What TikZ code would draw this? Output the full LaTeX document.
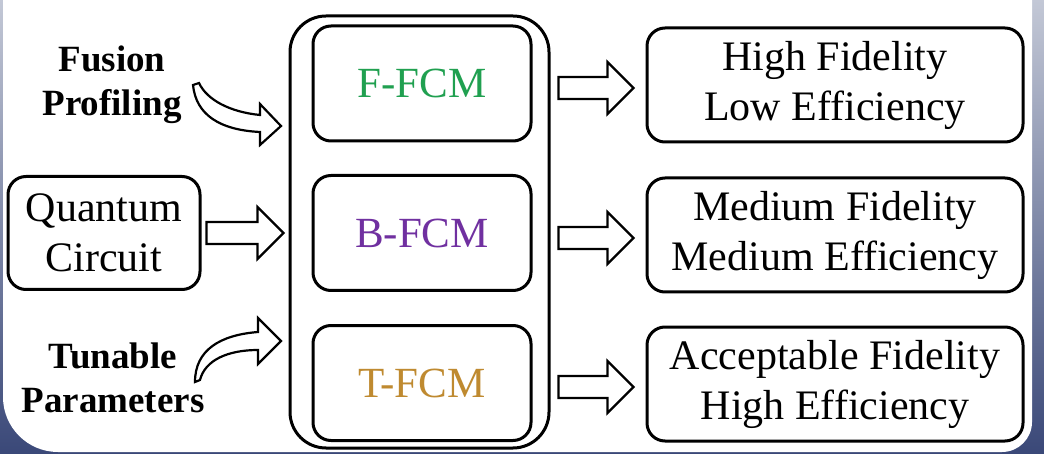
\documentclass[tikz,border=0pt]{standalone}
\usepackage{fontspec}
\setmainfont{Liberation Serif}
\usetikzlibrary{calc}

\definecolor{fgreen}{HTML}{20A050}
\definecolor{bpurple}{HTML}{7030A0}
\definecolor{tgold}{HTML}{BF8A30}
\definecolor{frametop}{HTML}{C3C8D6}
\definecolor{framebot}{HTML}{3A4878}

\newcommand{\fatarrow}[2]{%
  \draw[fat] let \p1=#1, \p2=#2 in
    (\x1,\y1+11) -- (\x2-26,\y1+11) -- (\x2-26,\y1+26) -- (\x2,\y1)
    -- (\x2-26,\y1-26) -- (\x2-26,\y1-11) -- (\x1,\y1-11) -- cycle;}

\begin{document}
\begin{tikzpicture}[x=1pt, y=-1pt,
  box/.style={draw=black, line width=3pt, rounded corners=18pt, inner sep=0pt, align=center},
  outer/.style={box, rounded corners=36pt, minimum width=259pt, minimum height=432pt},
  fcm/.style={box, minimum width=218pt, minimum height=115pt, font=\fontsize{43}{50}\selectfont},
  outcome/.style={box, minimum width=376pt, minimum height=114pt, font=\fontsize{42}{50}\selectfont},
  source/.style={box, minimum width=192pt, minimum height=113pt, font=\fontsize{42}{50}\selectfont},
  side/.style={inner sep=0pt, align=center, font=\fontsize{37}{44}\selectfont\bfseries},
  fat/.style={draw=black, line width=2.2pt, fill=white, line join=miter},
  bent/.style={draw=black, line width=2.2pt, fill=white, line join=miter}]
\useasboundingbox (0,0) rectangle (1044,454);
\shade[top color=frametop, bottom color=framebot] (0,0) rectangle (1044,454);
\fill[white] (3,0) [rounded corners=55pt] -- (3,452) [rounded corners=30pt] -- (1032,452) [sharp corners] -- (1032,0) -- cycle;

\node[outer] (fcms) at (419.5,232) {};
\node[fcm, text=fgreen] (ffcm) at (422,83.5) {F-FCM};
\node[fcm, text=bpurple] (bfcm) at (422,233) {B-FCM};
\node[fcm, text=tgold] (tfcm) at (422,383) {T-FCM};

\node[source] (qc) at (104,233) {Quantum\\Circuit};
\node[side] (fusion) at (112,85) {Fusion\\Profiling};
\node[side] (tune) at (113,378) {Tunable\\Parameters};

\node[outcome] (hifi) at (835,85) {High Fidelity\\Low Efficiency};
\node[outcome] (medfi) at (835,235) {Medium Fidelity\\Medium Efficiency};
\node[outcome] (accfi) at (835,384) {Acceptable Fidelity\\High Efficiency};

\fatarrow{($(qc.east)+(5,0)$)}{($(fcms.west)+(-5,0)$)}
\fatarrow{($(fcms.east |- hifi.west)+(8,3)$)}{($(hifi.west)+(-12,3)$)}
\fatarrow{($(fcms.east |- medfi.west)+(8,3)$)}{($(medfi.west)+(-12,3)$)}
\fatarrow{($(fcms.east |- accfi.west)+(8,3)$)}{($(accfi.west)+(-12,3)$)}

\draw[bent] (193,85) .. controls (196,115) and (220,130) .. (260,132)
  -- (260,145) -- (281,126) -- (260,104) -- (260,115)
  .. controls (230,112) and (207,100) .. (199,83) -- cycle;
\draw[bent] (195,382) .. controls (195,350) and (220,335) .. (258,332)
  -- (258,318) -- (281,341) -- (258,364) -- (258,350)
  .. controls (228,350) and (205,360) .. (200,380) -- cycle;
\end{tikzpicture}
\end{document}
